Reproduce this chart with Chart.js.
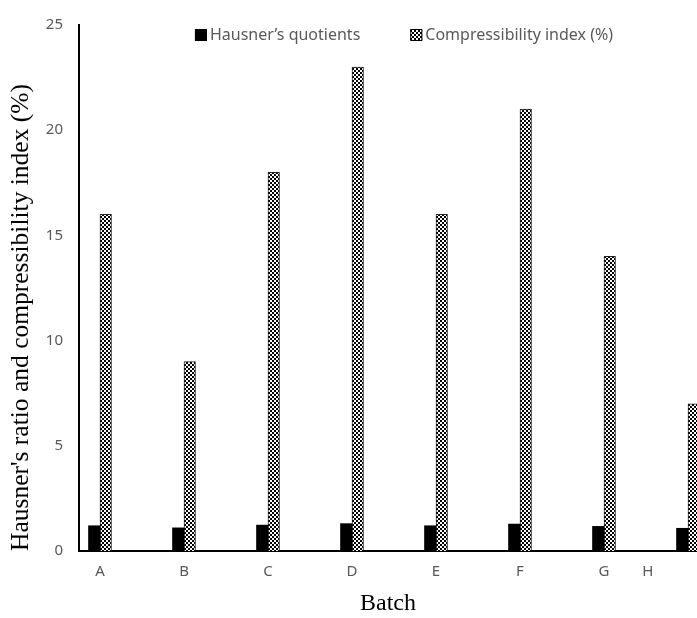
<!DOCTYPE html>
<html>
<head>
<meta charset="utf-8">
<script src="https://cdn.jsdelivr.net/npm/chart.js@4"></script>
<style>
  html, body { margin: 0; padding: 0; background: #fff; }
  #wrap { width: 697px; height: 618px; }
</style>
</head>
<body>
<div id="wrap"><canvas id="chart" width="697" height="618"></canvas></div>
<script>
// data
const batches = ['A', 'B', 'C', 'D', 'E', 'F', 'G', 'H'];
const tickPositions = [0, 1, 2, 3, 4, 5, 6, 6.52];   // H label sits left of its bars in the original
const hausner = [1.2, 1.1, 1.23, 1.3, 1.2, 1.28, 1.17, 1.08];
const compressibility = [16, 9, 18, 23, 16, 21, 14, 7];
const yTicks = [0, 5, 10, 15, 20, 25];

// checkerboard fill for the compressibility bars
function makeChecker() {
    const c = document.createElement('canvas');
    c.width = 4; c.height = 4;
    const g = c.getContext('2d');
    g.fillStyle = '#fff';
    g.fillRect(0, 0, 4, 4);
    g.fillStyle = '#000';
    g.fillRect(0, 0, 2, 2);
    g.fillRect(2, 2, 2, 2);
    return g.createPattern(c, 'repeat');
}
const checker = makeChecker();

const tickColor = '#595959';
const tickFont = { family: 'Noto Sans', size: 15 };

// legend drawn inside the plot area, like the original
const insideLegend = {
    id: 'insideLegend',
    afterDraw(chart) {
        const ctx = chart.ctx;
        const font = '16px "Noto Sans"';
        const box = 12, gap = 3, spacing = 50;
        ctx.save();
        ctx.font = font;
        const items = chart.data.datasets.map(ds => ({
            text: ds.label,
            fill: ds.backgroundColor,
            w: box + gap + ctx.measureText(ds.label).width
        }));
        const total = items.reduce((s, it) => s + it.w, 0) + spacing * (items.length - 1);
        let x = 404 - total / 2;
        const y = 35;
        ctx.textBaseline = 'middle';
        items.forEach(it => {
            ctx.fillStyle = it.fill;
            ctx.fillRect(x, y - box / 2, box, box);
            ctx.strokeStyle = '#000';
            ctx.lineWidth = 1;
            ctx.strokeRect(x + 0.5, y - box / 2 + 0.5, box - 1, box - 1);
            ctx.fillStyle = tickColor;
            ctx.fillText(it.text, x + box + gap, y);
            x += it.w + spacing;
        });
        ctx.restore();
    }
};

new Chart(document.getElementById('chart'), {
    type: 'bar',
    data: {
        datasets: [{
            label: 'Hausner\u2019s quotients',
            data: hausner.map((v, i) => ({ x: i, y: v })),
            backgroundColor: '#000',
            borderColor: '#000',
            borderWidth: 0,
            barThickness: 11.5
        }, {
            label: 'Compressibility index (%)',
            data: compressibility.map((v, i) => ({ x: i, y: v })),
            backgroundColor: checker,
            borderColor: '#222',
            borderWidth: 1,
            barThickness: 11.5
        }]
    },
    options: {
        responsive: false,
        animation: false,
        devicePixelRatio: 1,
        layout: { padding: { top: 20, right: 0, bottom: 0, left: 0 } },
        plugins: {
            tooltip: { enabled: false },
            legend: { display: false }
        },
        scales: {
            x: {
                type: 'linear',
                offset: false,
                min: -0.25,
                max: 7.107,
                grid: { display: false, drawTicks: false },
                border: { display: true, color: '#000', width: 2 },
                afterBuildTicks: (scale) => {
                    scale.ticks = tickPositions.map(v => ({ value: v }));
                },
                afterFit: (scale) => { scale.height = 67; },
                ticks: {
                    color: tickColor,
                    font: tickFont,
                    padding: 12,
                    autoSkip: false,
                    maxRotation: 0,
                    callback: (v, i) => batches[i]
                },
                title: {
                    display: true,
                    text: 'Batch',
                    color: '#000',
                    font: { family: 'Liberation Serif', size: 24 },
                    padding: { top: 2, bottom: 0 }
                }
            },
            y: {
                min: 0,
                max: 25,
                grid: { display: false, drawTicks: false },
                border: { display: true, color: '#000', width: 2 },
                afterBuildTicks: (scale) => {
                    scale.ticks = yTicks.map(v => ({ value: v }));
                },
                afterFit: (scale) => { scale.width = 79; },
                ticks: {
                    color: tickColor,
                    font: tickFont,
                    padding: 16
                },
                title: {
                    display: true,
                    align: 'start',
                    text: 'Hausner\'s ratio and compressibility index (%)',
                    color: '#000',
                    font: { family: 'Liberation Serif', size: 25.5 },
                    padding: { top: 6, bottom: 4 }
                }
            }
        }
    },
    plugins: [insideLegend]
});
</script>
</body>
</html>
